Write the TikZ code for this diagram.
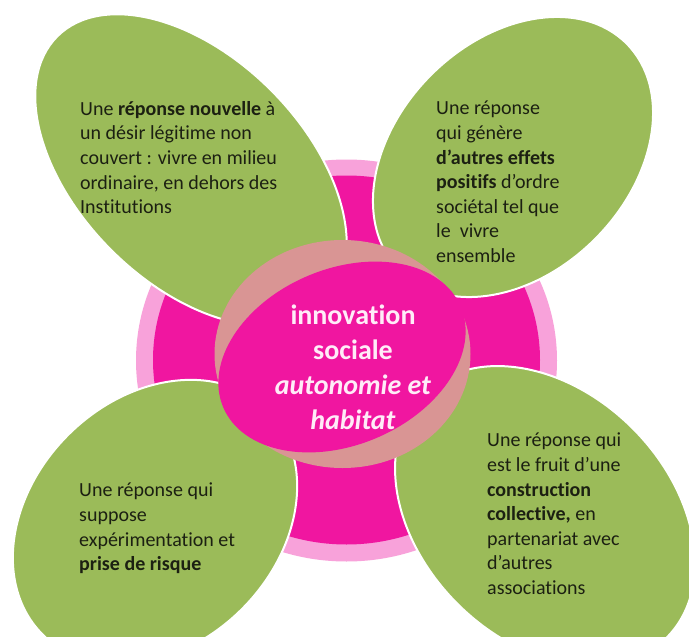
\documentclass[tikz,border=0pt]{standalone}
\usepackage{fontspec}
\setmainfont{Carlito}[Ligatures={NoCommon,NoContextual}]
\usetikzlibrary{shapes.geometric}
\definecolor{petalgreen}{RGB}{155,187,89}
\definecolor{lightpink}{RGB}{248,162,218}
\definecolor{mag}{RGB}{240,22,160}
\definecolor{dusty}{RGB}{217,149,148}
\definecolor{petalink}{RGB}{28,32,18}
\definecolor{centerink}{RGB}{255,236,248}
\begin{document}
\begin{tikzpicture}[x=1pt,y=-1pt,
  blob/.style={ellipse, inner sep=0pt, outer sep=0pt},
  petal/.style={blob, fill=petalgreen, draw=white, line width=2pt},
  petaltext/.style={anchor=north west, align=left, inner sep=0pt, text=petalink,
    font=\fontsize{20}{24.6}\selectfont},
  centertext/.style={anchor=north, align=center, inner sep=0pt, text=centerink,
    font=\fontsize{28}{35}\selectfont\bfseries}]
\useasboundingbox (0,0) rectangle (689,637);
\clip (0,0) rectangle (689,637);
\fill[white] (0,0) rectangle (689,637);
% background disc
\node[blob, fill=lightpink, minimum width=421pt, minimum height=402pt] (ring) at (346.5,360.5) {};
\node[blob, fill=mag, minimum width=387pt, minimum height=369pt] (disc) at (346.5,360) {};
% petals
\node[petal, minimum width=378pt, minimum height=226pt, rotate=-45] (tl) at (191,170) {};
\node[petal, minimum width=321pt, minimum height=232pt, rotate=45] (tr) at (513,157) {};
\node[petal, minimum width=344pt, minimum height=248pt, rotate=-45] (br) at (545,516) {};
\node[petal, minimum width=318pt, minimum height=246pt, rotate=45] (bl) at (155,522) {};
% hub
\node[blob, fill=dusty, minimum width=256pt, minimum height=228pt] (hub) at (342.5,354) {};
\node[blob, fill=mag, minimum width=258pt, minimum height=176pt, rotate=23] (core) at (342,357) {};
% texts
\node[centertext] (ctext) at (353,305) {innovation\\sociale\\\textit{autonomie et}\\\textit{habitat}};
\node[petaltext] (ttl) at (80,101) {Une \textbf{réponse nouvelle} à\\un désir légitime non\\couvert : vivre en milieu\\ordinaire, en dehors des\\Institutions};
\node[petaltext] (ttr) at (436,101) {Une réponse\\qui génère\\\textbf{d’autres effets}\\\textbf{positifs} d’ordre\\sociétal tel que\\le\ \ vivre\\ensemble};
\node[petaltext] (tbr) at (487,433) {Une réponse qui\\est le fruit d’une\\\textbf{construction}\\\textbf{collective,} en\\partenariat avec\\d’autres\\associations};
\node[petaltext] (tbl) at (79,483) {Une réponse qui\\suppose\\expérimentation et\\\textbf{prise de risque}};
\end{tikzpicture}
\end{document}
